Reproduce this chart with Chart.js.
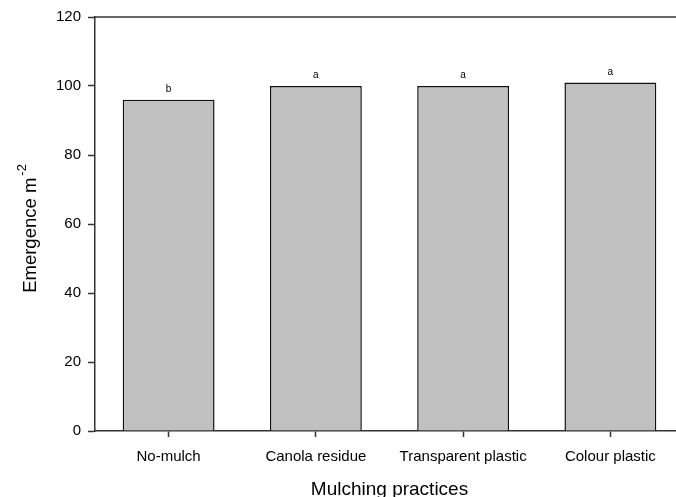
<!DOCTYPE html>
<html>
<head>
<meta charset="utf-8">
<script src="https://cdn.jsdelivr.net/npm/chart.js@4.4.1/dist/chart.umd.min.js"></script>
<style>
  html, body { margin: 0; padding: 0; background: #fff; overflow: hidden; }
  #wrap { position: relative; width: 700px; height: 497px; }
</style>
</head>
<body>
<div id="wrap"><canvas id="c"></canvas></div>
<script>
// Seedling emergence under different mulching practices
const categories = ['No-mulch', 'Canola residue', 'Transparent plastic', 'Colour plastic'];
const emergence = [96, 100, 100, 101];
const groupLetters = ['b', 'a', 'a', 'a'];
const yTicks = [0, 20, 40, 60, 80, 100, 120];

const FONT = "'Liberation Sans', Arial, sans-serif";
const AXIS_COLOR = '#333';

// Top frame line of the plot box
const frameTop = {
  id: 'frameTop',
  afterDraw(chart) {
    const { ctx, chartArea } = chart;
    ctx.save();
    ctx.strokeStyle = AXIS_COLOR;
    ctx.lineWidth = 1.5;
    ctx.beginPath();
    ctx.moveTo(chartArea.left - 0.75, chartArea.top);
    ctx.lineTo(chartArea.right, chartArea.top);
    ctx.stroke();
    ctx.restore();
  }
};

// Significance letters above each bar
const letterLabels = {
  id: 'letterLabels',
  afterDatasetsDraw(chart) {
    const { ctx } = chart;
    const meta = chart.getDatasetMeta(0);
    ctx.save();
    ctx.font = '10px ' + FONT;
    ctx.fillStyle = '#000';
    ctx.textAlign = 'center';
    ctx.textBaseline = 'alphabetic';
    meta.data.forEach((bar, i) => {
      ctx.fillText(groupLetters[i], bar.x, bar.y - 8);
    });
    ctx.restore();
  }
};

// Y-axis title with superscript unit
const yTitle = {
  id: 'yTitle',
  afterDraw(chart) {
    const { ctx, chartArea } = chart;
    const main = 'Emergence m';
    const sup = '-2';
    const mainFont = '18.5px ' + FONT;
    const supFont = '13px ' + FONT;
    ctx.save();
    ctx.fillStyle = '#000';
    ctx.textBaseline = 'alphabetic';
    ctx.font = mainFont;
    const wMain = ctx.measureText(main).width;
    ctx.font = supFont;
    const wSup = ctx.measureText(sup).width;
    const gap = 2;
    const total = wMain + gap + wSup;
    const cy = (chartArea.top + chartArea.bottom) / 2 + 4.5;
    ctx.translate(36, cy);
    ctx.rotate(-Math.PI / 2);
    ctx.textAlign = 'left';
    ctx.font = mainFont;
    ctx.fillText(main, -total / 2, 0);
    ctx.font = supFont;
    ctx.fillText(sup, -total / 2 + wMain + gap, -10);
    ctx.restore();
  }
};

new Chart(document.getElementById('c'), {
  type: 'bar',
  data: {
    labels: categories,
    datasets: [{
      data: emergence,
      backgroundColor: '#c0c0c0',
      borderColor: '#111',
      borderWidth: 1.5,
      borderSkipped: 'start',
      categoryPercentage: 1,
      barPercentage: 0.624
    }]
  },
  options: {
    responsive: true,
    maintainAspectRatio: false,
    animation: false,
    events: [],
    layout: { padding: { top: 17, right: 16, left: 0, bottom: 0 } },
    plugins: {
      legend: { display: false },
      tooltip: { enabled: false },
      title: { display: false }
    },
    scales: {
      x: {
        offset: true,
        grid: {
          display: true,
          offset: false,
          drawOnChartArea: false,
          drawTicks: true,
          tickLength: 6,
          tickWidth: 1.5,
          tickColor: AXIS_COLOR
        },
        border: { display: true, color: AXIS_COLOR, width: 1.5 },
        ticks: {
          color: '#000',
          font: { family: FONT, size: 15 },
          padding: 11,
          maxRotation: 0,
          autoSkip: false
        },
        title: {
          display: true,
          text: 'Mulching practices',
          color: '#000',
          font: { family: FONT, size: 19, lineHeight: 0.8 },
          padding: { top: 0, bottom: 0 }
        },
        afterFit(scale) { scale.height = 66; }
      },
      y: {
        min: 0,
        max: 120,
        afterBuildTicks(scale) { scale.ticks = yTicks.map(v => ({ value: v })); },
        grid: {
          display: true,
          drawOnChartArea: false,
          drawTicks: true,
          tickLength: 7,
          tickWidth: 1.5,
          tickColor: AXIS_COLOR
        },
        border: { display: true, color: AXIS_COLOR, width: 1.5 },
        ticks: {
          color: '#000',
          font: { family: FONT, size: 15 },
          padding: 7
        },
        afterFit(scale) { scale.width = 95; }
      }
    }
  },
  plugins: [frameTop, letterLabels, yTitle]
});
</script>
</body>
</html>
